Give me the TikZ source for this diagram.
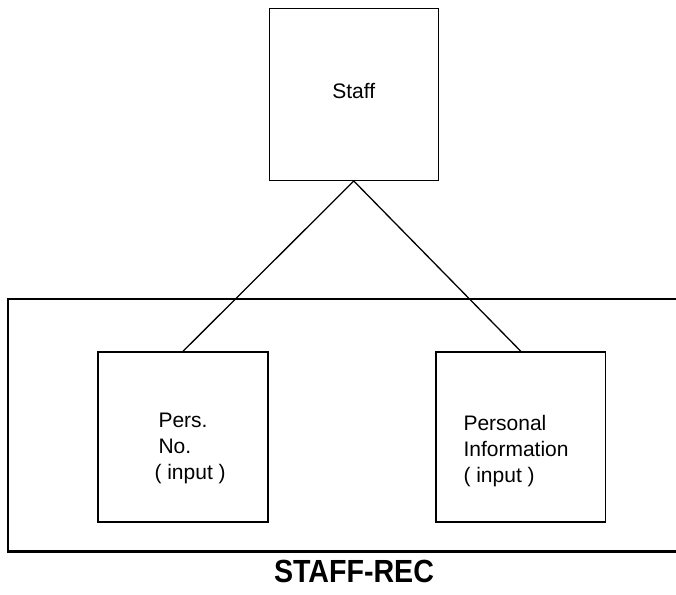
\documentclass[tikz,border=0pt]{standalone}
\usepackage{fontspec}
\setmainfont{Liberation Sans}
\begin{document}
\begin{tikzpicture}[x=1pt,y=-1pt,
  box/.style={draw, line width=1.4pt, inner sep=0pt},
  lbl/.style={font=\fontsize{21}{26}\selectfont, align=left, inner sep=0pt, anchor=north west},
  link/.style={line width=1.3pt},
  frame/.style={line width=2.4pt}]
\useasboundingbox (0,0) rectangle (676,594);
% top entity
\node[box, minimum width=169pt, minimum height=172pt,
      font=\fontsize{21}{25}\selectfont, text depth=7pt] (staff) at (353.8,94.3) {Staff};
% record frame (open on the right)
\coordinate (ftr) at (676,299);
\coordinate (ftl) at (8,299);
\coordinate (fbl) at (8,551.5);
\coordinate (fbr) at (676,551.5);
\draw[frame] (ftr) -- (ftl) -- (fbl) -- (fbr);
% child boxes
\node[box, minimum width=170pt, minimum height=170pt] (pers) at (183,437) {};
\node[box, minimum width=169.6pt, minimum height=170pt] (info) at (520.8,437) {};
\node[lbl] (perstext) at (158.3,412.7) {Pers.\\No.\\\hspace*{-4pt}( input )};
\node[lbl] (infotext) at (463.3,415) {Personal\\Information\\( input )};
% connectors
\draw[link] (staff.south) -- (pers.north);
\draw[link] (staff.south) -- (info.north);
% caption
\node[inner sep=0pt, font=\bfseries\fontsize{28.6}{30}\selectfont] (title) at (354,571.5) {\scalebox{1}[1.12]{STAFF-REC}};
\end{tikzpicture}
\end{document}
